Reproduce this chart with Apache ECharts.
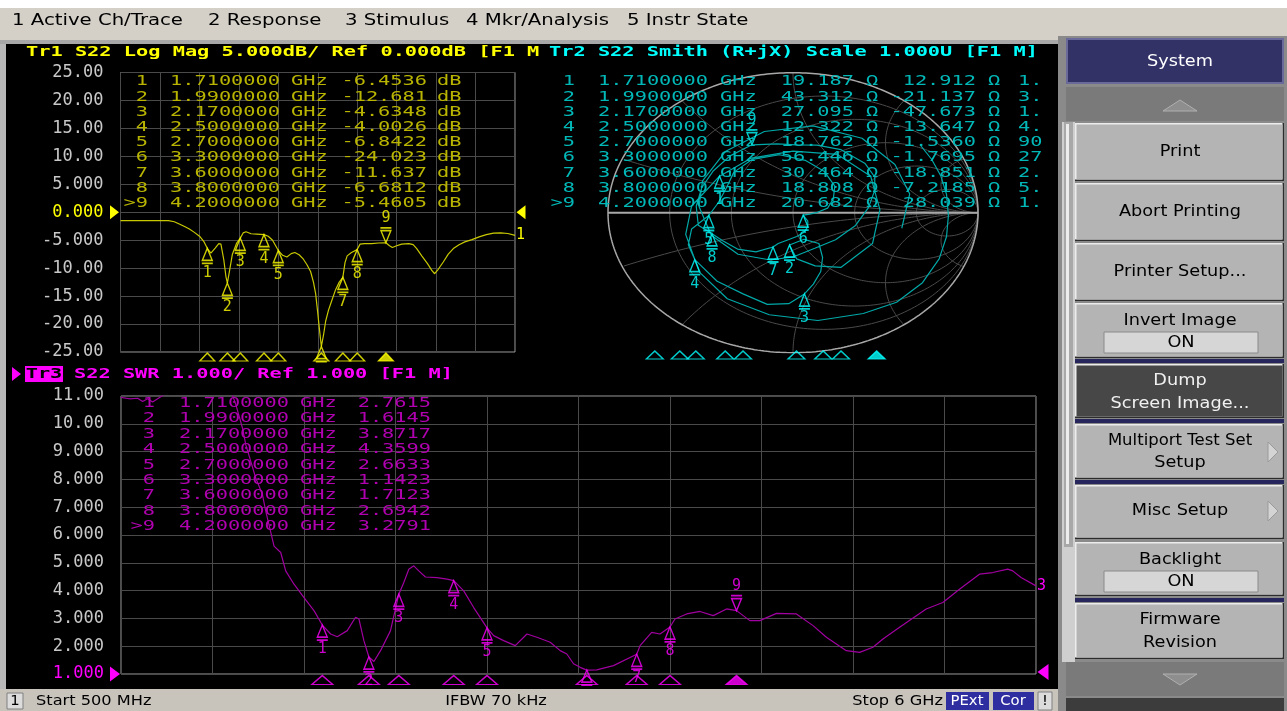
<!DOCTYPE html>
<html><head><meta charset="utf-8">
<script src="https://cdn.jsdelivr.net/npm/echarts@6/dist/echarts.min.js"></script>
<style>html,body{margin:0;padding:0;background:#000;overflow:hidden}#c{width:1287px;height:711px}</style>
</head><body><div id="c"></div><script>
// ---------------- DATA ----------------
const menuItems = ['1 Active Ch/Trace','2 Response','3 Stimulus','4 Mkr/Analysis','5 Instr State'];
const menuX = [12,208,345,466,627];

const markerLabels = ['1','2','3','4','5','6','7','8','>9'];
const markerFreqGHz = [1.71,1.99,2.17,2.50,2.70,3.30,3.60,3.80,4.20];
const tr1MarkerDb = [-6.4536,-12.681,-4.6348,-4.0026,-6.8422,-24.023,-11.637,-6.6812,-5.4605];
const tr2MarkerR = ['19.187','43.312','27.095','12.322','18.762','56.446','30.464','18.808','20.682'];
const tr2MarkerX = ['12.912','-21.137','-47.673','-13.647','-1.5360','-1.7695','-18.851','-7.2185','28.039'];
const tr2MarkerExtra = ['1.','3.','1.','4.','90','27','2.','5.','1.'];
const tr3MarkerSwr = [2.7615,1.6145,3.8717,4.3599,2.6633,1.1423,1.7123,2.6942,3.2791];

const tr1TickLabels = ['25.00','20.00','15.00','10.00','5.000','0.000','-5.000','-10.00','-15.00','-20.00','-25.00'];
const tr3TickLabels = ['11.00','10.00','9.000','8.000','7.000','6.000','5.000','4.000','3.000','2.000','1.000'];

// Tr1 : S22 Log Mag (GHz, dB)
const tr1Freq = [0.50,0.70,0.90,1.10,1.17,1.25,1.32,1.40,1.46,1.53,1.61,1.66,1.71,1.76,1.82,1.87,1.90,1.94,1.97,1.99,2.02,2.06,2.12,2.17,2.21,2.25,2.32,2.40,2.50,2.56,2.62,2.70,2.76,2.82,2.88,2.93,2.99,3.05,3.10,3.15,3.19,3.22,3.25,3.27,3.30,3.33,3.36,3.40,3.44,3.50,3.55,3.60,3.63,3.66,3.72,3.80,3.84,3.90,4.00,4.10,4.20,4.25,4.29,4.35,4.42,4.52,4.58,4.63,4.70,4.78,4.84,4.88,4.93,5.00,5.07,5.14,5.22,5.30,5.40,5.50,5.60,5.70,5.80,5.90,6.00];
const tr1Db = [-1.5,-1.5,-1.5,-1.5,-1.5,-1.7,-2.1,-2.6,-3.0,-3.6,-4.4,-5.2,-6.45,-7.3,-6.4,-5.6,-5.7,-8.5,-11.5,-12.68,-10.5,-7.5,-5.5,-4.63,-3.7,-3.5,-3.85,-3.9,-4.0,-4.3,-5.0,-6.84,-7.7,-8.0,-7.4,-7.2,-7.6,-8.4,-9.4,-10.6,-12.5,-14.5,-18.0,-20.5,-24.02,-22.0,-19.5,-17.5,-16.0,-13.8,-12.5,-11.64,-9.0,-7.8,-7.2,-6.68,-5.7,-5.6,-5.6,-5.5,-5.46,-6.0,-6.3,-6.0,-5.7,-5.6,-5.8,-6.5,-7.8,-9.2,-10.4,-11.0,-10.2,-8.9,-7.5,-6.5,-5.8,-5.3,-4.9,-4.4,-4.0,-3.75,-3.7,-3.8,-4.15];

// Tr3 : S22 SWR (GHz, SWR)
const tr3Freq = [0.50,0.55,0.60,0.63,0.66,0.69,0.72,0.76,0.80,0.90,1.00,1.10,1.16,1.19,1.23,1.25,1.28,1.31,1.35,1.37,1.40,1.42,1.46,1.49,1.54,1.60,1.66,1.71,1.76,1.80,1.86,1.91,1.93,1.96,1.99,2.02,2.06,2.12,2.17,2.20,2.23,2.26,2.29,2.33,2.40,2.46,2.50,2.56,2.62,2.70,2.74,2.80,2.87,2.94,3.00,3.08,3.14,3.18,3.22,3.26,3.30,3.36,3.46,3.60,3.62,3.69,3.74,3.80,3.83,3.90,3.98,4.06,4.14,4.20,4.28,4.34,4.44,4.56,4.66,4.74,4.86,4.94,5.02,5.08,5.18,5.34,5.44,5.54,5.66,5.74,5.83,5.86,5.91,6.00];
const tr3Swr = [10.95,10.9,10.92,10.8,10.9,10.78,10.9,11.05,11.4,11.6,11.6,11.6,11.2,10.7,9.85,9.25,8.65,8.05,7.46,6.86,6.1,5.6,5.37,4.71,4.23,3.75,3.28,2.76,2.44,2.34,2.56,3.04,2.98,2.2,1.61,1.45,1.84,2.56,3.87,4.29,4.77,4.89,4.71,4.49,4.47,4.41,4.36,3.99,3.39,2.66,2.38,2.20,2.02,2.44,2.32,2.14,1.84,1.72,1.37,1.24,1.14,1.15,1.30,1.71,2.02,2.50,2.44,2.69,2.98,3.16,3.25,3.10,3.34,3.28,2.92,2.92,3.18,3.16,2.74,2.32,1.84,1.78,1.96,2.26,2.68,3.34,3.57,4.05,4.59,4.65,4.77,4.71,4.47,4.17];

const smithRe = [0.69,0.75,0.80,0.83,0.84,0.83,0.79,0.70,0.56,0.38,0.134,-0.128,-0.355,-0.506,-0.58,-0.548,-0.397,-0.225,0.0,0.24,0.42,0.47,0.43,0.26,0.12,0.02,-0.019,0.06,0.14,0.16,0.15,0.11,0.062,-0.023,-0.139,-0.27,-0.41,-0.531,-0.566,-0.548,-0.455,-0.404,-0.363,-0.32,-0.22,-0.073,0.066,0.17,0.226,0.218,0.187,0.126,0.09,0.055,0.08,0.08,0.06,0.02,-0.04,-0.08,-0.108,-0.2,-0.3,-0.38,-0.4375,-0.512,-0.523,-0.493,-0.43,-0.34,-0.222,-0.087,0.017,0.129,0.26,0.39,0.442,0.442,0.408,0.338,0.23,0.118,0.0,-0.123,-0.297,-0.442,-0.508,-0.489,-0.366,-0.155,0.109,0.373,0.551,0.631,0.588];
const smithIm = [0.48,0.38,0.26,0.13,-0.02,-0.17,-0.33,-0.50,-0.64,-0.72,-0.77,-0.729,-0.615,-0.424,-0.155,0.048,0.261,0.39,0.44,0.416,0.26,0.02,-0.22,-0.39,-0.38,-0.33,-0.231,-0.19,-0.22,-0.32,-0.42,-0.51,-0.58,-0.65,-0.655,-0.58,-0.49,-0.335,-0.229,-0.116,-0.02,0.071,0.169,0.288,0.381,0.414,0.374,0.294,0.19,0.10,0.033,0.0,-0.01,-0.017,-0.06,-0.10,-0.14,-0.17,-0.20,-0.22,-0.245,-0.28,-0.26,-0.2,-0.151,-0.09,0.046,0.18,0.30,0.406,0.485,0.492,0.484,0.483,0.45,0.351,0.255,0.161,0.036,-0.091,-0.193,-0.254,-0.316,-0.338,-0.297,-0.161,0.044,0.228,0.437,0.58,0.62,0.532,0.344,0.134,-0.111];
const smithMarkRe = [-0.397,-0.019,0.062,-0.531,-0.455,0.055,-0.108,-0.4375,-0.222];
const smithMarkIm = [0.261,-0.231,-0.580,-0.335,-0.02,-0.017,-0.245,-0.151,0.485];

// Smith chart grid circles (resistance / reactance values)
const smithGridR = [0.2,0.5,1,2,5];
const smithGridX = [0.2,0.5,1,2,5];

// ---------------- STYLE ----------------
const MONO = '"DejaVu Sans Mono", monospace';
const SANS = '"DejaVu Sans", sans-serif';
const MSX = 1.45, SSX = 1.2;
const YEL='#ffff00', YEL_T='#b8b400', YEL_TR='#c8c800';
const CYA='#00ffff', CYA_T='#00b8b8', CYA_TR='#00a8a8';
const MAG='#ff00ff', MAG_T='#b000b0', MAG_TR='#a000a0';

const G = [];
function rect(x,y,w,h,fill,z,stroke){const o={type:'rect',z:z,silent:true,shape:{x:x,y:y,width:w,height:h},style:{fill:fill}};if(stroke){o.style.stroke=stroke;o.style.lineWidth=1;}G.push(o);}
function text(x,y,s,color,size,fam,align,sx,z){G.push({type:'text',x:x,y:y,scaleX:sx,z:z==null?50:z,silent:true,style:{text:s,fill:color,font:size+'px '+fam,textAlign:align||'left',textVerticalAlign:'middle'}});}
function poly(pts,fill,stroke,z){const o={type:'polygon',z:z==null?-8:z,silent:true,shape:{points:pts},style:{fill:fill}};if(stroke){o.style.stroke=stroke;o.style.lineWidth=1;}G.push(o);}
function mono(x,y,s,c,align){text(x,y,s,c,14,MONO,align,MSX);}
function monoB(x,y,s,c,align){text(x,y,s,c,'bold 14',MONO,align,MSX);}
function btn(x,y,w,h,face){rect(x,y,w,h,'#2c2c2c',-14);rect(x,y,w-1.5,h-1.5,'#ececec',-13);rect(x+1.5,y+1.5,w-3,h-3,face,-12);}

// page chrome
rect(0,0,1287,711,'#d4d0c8',-20);
rect(0,0,1287,8,'#ffffff',-19);
rect(0,40,1060,4,'#a8a8a8',-19);
rect(0,44,6,646,'#b8b8b8',-19);
rect(6,44,1052,645,'#000000',-19);
rect(1058,36,229,675,'#8a8a8a',-19);
menuItems.forEach((m,i)=>text(menuX[i],21,m,'#000000',16,SANS,'left',1.23));

// right soft-key panel
rect(1066,38,218,46,'#6a6a9a',-14);rect(1068,40,214,42,'#323266',-13);
text(1180,62,'System','#ffffff',15,SANS,'center',1.18);
rect(1066,87,218,34,'#7a7a7a',-14);
poly([[1163,111],[1180,100],[1197,111]],'#8e8e8e','#b0b0b0',-8);
rect(1062,122,13,540,'#cfcfcf',-14);rect(1064,122,9,425,'#a8a8a8',-13);rect(1066,124,3,420,'#ececec',-12);
btn(1075,123,209,58,'#b4b4b4'); text(1180,152,'Print','#000',15,SANS,'center',1.18);
btn(1075,183,209,58,'#b4b4b4'); text(1180,212,'Abort Printing','#000',15,SANS,'center',1.18);
btn(1075,243,209,58,'#b4b4b4'); text(1180,272,'Printer Setup...','#000',15,SANS,'center',1.18);
btn(1075,303,209,55,'#b4b4b4'); text(1180,321,'Invert Image','#000',15,SANS,'center',1.18);
rect(1104,332,154,21,'#d6d6d6',-11,'#8a8a8a'); text(1181,343,'ON','#000',15,SANS,'center',1.18);
rect(1075,359,209,4,'#26265c',-11);
btn(1075,364,209,54,'#474747'); text(1180,381,'Dump','#f0f0f0',15,SANS,'center',1.18); text(1180,404,'Screen Image...','#f0f0f0',15,SANS,'center',1.18);
rect(1075,419,209,4,'#26265c',-11);
btn(1075,424,209,55,'#b4b4b4'); text(1180,441,'Multiport Test Set','#000',15,SANS,'center',1.1); text(1180,463,'Setup','#000',15,SANS,'center',1.18);
poly([[1268,442],[1278,452],[1268,462]],'#d4d4d4','#9a9a9a',-8);
rect(1075,480,209,4,'#26265c',-11);
btn(1075,485,209,54,'#b4b4b4'); text(1180,511,'Misc Setup','#000',15,SANS,'center',1.18);
poly([[1268,501],[1278,511],[1268,521]],'#d4d4d4','#9a9a9a',-8);
btn(1075,542,209,54,'#b4b4b4'); text(1180,560,'Backlight','#000',15,SANS,'center',1.18);
rect(1104,571,154,21,'#d6d6d6',-11,'#8a8a8a'); text(1181,582,'ON','#000',15,SANS,'center',1.18);
rect(1075,598,209,4,'#26265c',-11);
btn(1075,603,209,56,'#b4b4b4'); text(1180,620,'Firmware','#000',15,SANS,'center',1.18); text(1180,643,'Revision','#000',15,SANS,'center',1.18);
rect(1066,662,218,34,'#7a7a7a',-14);
poly([[1163,674],[1197,674],[1180,685]],'#8e8e8e','#b0b0b0',-8);
rect(1066,698,218,13,'#3c3c3c',-14);

// status bar
rect(0,689,1058,22,'#c8c4bc',-14);
rect(7,693,16,16,'#dcdcdc',-13,'#808080'); text(15,701,'1','#000',13.5,SANS,'center',1.1);
text(36,701,'Start 500 MHz','#000',13.5,SANS,'left',SSX);
text(496,701,'IFBW 70 kHz','#000',13.5,SANS,'center',SSX);
text(943,701,'Stop 6 GHz','#000',13.5,SANS,'right',SSX);
rect(946,692,43,18,'#2e2ea0',-13); text(967,701,'PExt','#ffffff',13.5,SANS,'center',1.1);
rect(993,692,41,18,'#2e2ea0',-13); text(1013,701,'Cor','#ffffff',13.5,SANS,'center',1.1);
rect(1038,692,14,18,'#dcdcdc',-13,'#808080'); text(1045,701,'!','#000',13.5,SANS,'center',1.1);

// trace headers
monoB(26,52,'Tr1 S22 Log Mag 5.000dB/ Ref 0.000dB [F1 M',YEL);
monoB(549,52,'Tr2 S22 Smith (R+jX) Scale 1.000U [F1 M]',CYA);
poly([[12,367],[21,374],[12,381]],MAG,null,40);
rect(25,366,38,16,MAG,40);
monoB(44,374,'Tr3','#000000','center');
monoB(74,374,'S22 SWR 1.000/ Ref 1.000 [F1 M]',MAG);

// marker tables
markerLabels.forEach((lab,i)=>{
  const y1 = 81.7 + 15.2*i;
  const fTxt = markerFreqGHz[i].toFixed(7);
  mono(148,y1,lab,YEL_T,'right'); mono(170,y1,fTxt,YEL_T); mono(291,y1,'GHz',YEL_T);
  mono(427,y1,tr1MarkerDb[i].toPrecision(5),YEL_T,'right'); mono(437,y1,'dB',YEL_T);
  mono(575,y1,lab,CYA_T,'right'); mono(598,y1,fTxt,CYA_T); mono(720,y1,'GHz',CYA_T);
  mono(854,y1,tr2MarkerR[i],CYA_T,'right'); mono(866,y1,'\u03A9',CYA_T);
  mono(976,y1,tr2MarkerX[i],CYA_T,'right'); mono(988,y1,'\u03A9',CYA_T);
  mono(1018,y1,tr2MarkerExtra[i],CYA_T);
  const y3 = 403.3 + 15.42*i;
  mono(155,y3,lab,MAG_T,'right'); mono(179,y3,fTxt,MAG_T); mono(300,y3,'GHz',MAG_T);
  mono(431,y3,tr3MarkerSwr[i].toFixed(4),MAG_T,'right');
});

// ---------------- SERIES HELPERS ----------------
const SYM_MARK = 'path://M5,0L9.5,10.5L0.5,10.5Z M0,13L10,13';
const SYM_ACT = 'path://M0,0L10,0 M0.5,2.5L9.5,2.5L5,13Z';
const SYM_IND = 'path://M5,0L10,8L0,8Z';
const SYM_RIGHT = 'path://M0,0L10,6L0,12Z';
const SYM_LEFT = 'path://M10,0L0,6L10,12Z';

// markers whose number would fall below the plot window keep their label hidden (as on the instrument)
function markItem(x,y,i,color,floor){
  const active = markerLabels[i].charAt(0)==='>';
  const showLab = floor==null || y > floor;
  return {value:[x,y], name:markerLabels[i].replace('>',''),
    symbol: active?SYM_ACT:SYM_MARK, symbolSize:[11,15], symbolOffset:[0, active?'-50%':'50%'],
    itemStyle:{color:'rgba(0,0,0,0)', borderColor:color, borderWidth:1.5},
    label:{show:showLab, position: active?'top':'bottom', distance:1, formatter:'{b}', color:color, fontFamily:'DejaVu Sans Mono', fontSize:15}};
}
function indItem(x,y,i,color,size,off){
  const active = markerLabels[i].charAt(0)==='>';
  return {value:[x,y], symbol:SYM_IND, symbolSize:size, symbolOffset:[0,off],
    itemStyle:{color: active?color:'rgba(0,0,0,0)', borderColor:color, borderWidth:1.3}};
}
function scatter(xi,yi,data,z){return {type:'scatter',xAxisIndex:xi,yAxisIndex:yi,data:data,z:z||5,clip:false,silent:true,animation:false,emphasis:{disabled:true}};}

const series = [];
// Tr1 trace
series.push({type:'line',xAxisIndex:0,yAxisIndex:0,data:tr1Freq.map((f,i)=>[f,tr1Db[i]]),symbol:'none',z:3,silent:true,
  lineStyle:{color:YEL_TR,width:1.2},
  endLabel:{show:true,formatter:'1',color:YEL,fontFamily:'DejaVu Sans Mono',fontSize:15,distance:1},
  markPoint:{silent:true,label:{show:false},data:[
    {coord:[0.5,0],symbol:SYM_RIGHT,symbolSize:[9,14],symbolOffset:[-6,0],itemStyle:{color:YEL}},
    {coord:[6.0,0],symbol:SYM_LEFT,symbolSize:[9,14],symbolOffset:[6,0],itemStyle:{color:YEL}}]}});
series.push(scatter(0,0,markerFreqGHz.map((f,i)=>markItem(f,tr1MarkerDb[i],i,YEL,-22))));
series.push(scatter(0,0,markerFreqGHz.map((f,i)=>indItem(f,-25,i,YEL,[15,8],5))));

// Tr3 trace
series.push({type:'line',xAxisIndex:2,yAxisIndex:1,data:tr3Freq.map((f,i)=>[f,tr3Swr[i]]),symbol:'none',z:3,silent:true,
  lineStyle:{color:MAG_TR,width:1.2},
  endLabel:{show:true,formatter:'3',color:MAG,fontFamily:'DejaVu Sans Mono',fontSize:15,distance:1},
  markPoint:{silent:true,label:{show:false},data:[
    {coord:[0.5,1],symbol:SYM_RIGHT,symbolSize:[10,15],symbolOffset:[-6,0],itemStyle:{color:MAG}},
    {coord:[6.0,1],symbol:SYM_LEFT,symbolSize:[11,16],symbolOffset:[7,-2],itemStyle:{color:MAG}}]}});
series.push(scatter(2,1,markerFreqGHz.map((f,i)=>markItem(f,tr3MarkerSwr[i],i,MAG,1.5))));
series.push(scatter(2,1,markerFreqGHz.map((f,i)=>indItem(f,1,i,MAG,[21,9],6))));

// Smith chart grid (decoration)
function gridLine(pts,color,w){series.push({type:'line',xAxisIndex:4,yAxisIndex:2,data:pts,symbol:'none',silent:true,z:1,lineStyle:{color:color,width:w}});}
function circ(cx,cy,r,a0,a1,n){const p=[];for(let k=0;k<=n;k++){const a=a0+(a1-a0)*k/n;const x=cx+r*Math.cos(a),y=cy+r*Math.sin(a);if(x*x+y*y<=1.0001)p.push([x,y]);}return p;}
smithGridR.forEach(r=>gridLine(circ(r/(1+r),0,1/(1+r),0,2*Math.PI,240),'#4a4a4a',1));
smithGridX.forEach(x=>{gridLine(circ(1,1/x,1/x,Math.PI/2,1.5*Math.PI,400),'#4a4a4a',1);gridLine(circ(1,-1/x,1/x,Math.PI/2,1.5*Math.PI,400),'#4a4a4a',1);});
gridLine(circ(0,0,1,0,2*Math.PI,360),'#a8a8a8',1.5);
gridLine([[-1,0],[1,0]],'#a8a8a8',2);

// Smith trace + markers
series.push({type:'line',xAxisIndex:4,yAxisIndex:2,data:smithRe.map((r,i)=>[r,smithIm[i]]),symbol:'none',z:3,silent:true,lineStyle:{color:CYA_TR,width:1.2}});
series.push(scatter(4,2,smithMarkRe.map((r,i)=>markItem(r,smithMarkIm[i],i,CYA))));
series.push(scatter(5,3,markerFreqGHz.map((f,i)=>indItem(f,0.5,i,CYA,[17,8],0))));

// ---------------- AXES ----------------
function hidX(g,min,max){return {type:'value',gridIndex:g,min:min,max:max,show:false};}
function divX(g){return {type:'value',gridIndex:g,min:0,max:10,interval:1,axisLine:{show:false},axisTick:{show:false},axisLabel:{show:false},splitLine:{show:true,lineStyle:{color:'#4a4a4a',width:1}}};}
const option = {
  animation:false,
  backgroundColor:'transparent',
  graphic:G,
  grid:[
    {left:120.5,top:72.5,width:394.5,height:279.5,show:true,borderColor:'#9c9c9c',borderWidth:1,backgroundColor:'transparent'},
    {left:121,top:396,width:915,height:278,show:true,borderColor:'#9c9c9c',borderWidth:1,backgroundColor:'transparent'},
    {left:608,top:72.7,width:370,height:280,show:false},
    {left:547,top:350,width:490,height:10,show:false}
  ],
  xAxis:[hidX(0,0.5,6),divX(0),hidX(1,0.5,6),divX(1),hidX(2,-1,1),hidX(3,0.5,6)],
  yAxis:[
    {type:'value',gridIndex:0,min:-25,max:25,interval:5,axisLine:{show:false},axisTick:{show:false},
      splitLine:{lineStyle:{color:'#4a4a4a',width:1}},
      axisLabel:{margin:17,fontFamily:'DejaVu Sans Mono',fontSize:17,
        formatter:v=>tr1TickLabels[Math.round((25-v)/5)],
        color:v=>Number(v)===0?YEL:'#c8c8c8'}},
    {type:'value',gridIndex:1,min:1,max:11,interval:1,axisLine:{show:false},axisTick:{show:false},
      splitLine:{lineStyle:{color:'#4a4a4a',width:1}},
      axisLabel:{margin:17,fontFamily:'DejaVu Sans Mono',fontSize:17,
        formatter:v=>tr3TickLabels[Math.round(11-v)],
        color:v=>Number(v)===1?MAG:'#c8c8c8'}},
    {type:'value',gridIndex:2,min:-1,max:1,show:false},
    {type:'value',gridIndex:3,min:0,max:1,show:false}
  ],
  series:series
};
const chart = echarts.init(document.getElementById('c'),null,{renderer:'canvas'});
chart.setOption(option);
</script></body></html>
